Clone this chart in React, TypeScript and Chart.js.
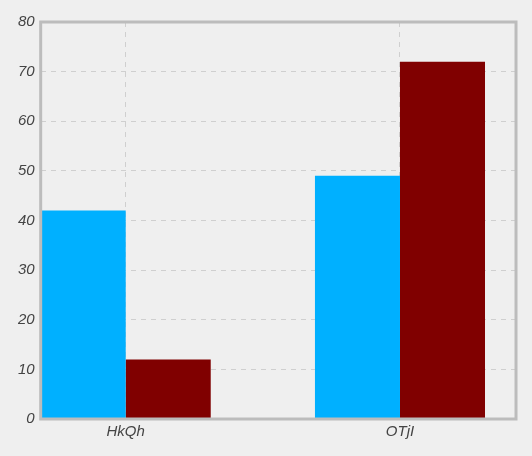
import React, { useEffect, useRef } from "react";
import { Chart, registerables } from "chart.js";
Chart.register(...registerables);

const categories = ["HkQh", "OTjI"];
const seriesBlue = [42, 49];
const seriesRed = [12, 72];
const yTicks = [0, 10, 20, 30, 40, 50, 60, 70, 80];

const frame = {
  id: "frame",
  beforeDraw(c: any) {
    const { ctx } = c;
    ctx.save();
    ctx.fillStyle = "#efefef";
    ctx.fillRect(0, 0, c.width, c.height);
    ctx.restore();
  },
  afterDraw(c: any) {
    const { ctx, chartArea: a } = c;
    ctx.save();
    ctx.strokeStyle = "#bcbcbc";
    ctx.lineWidth = 3;
    ctx.strokeRect(a.left, a.top, a.right - a.left, a.bottom - a.top);
    ctx.restore();
  },
};

export default function App() {
  const ref = useRef<HTMLCanvasElement>(null);
  useEffect(() => {
    document.body.style.margin = "0";
    const font = { family: "Liberation Sans", size: 15, style: "italic" as const };
    const chart = new Chart(ref.current!, {
      type: "bar",
      data: {
        datasets: [
          { data: categories.map((_, i) => ({ x: i, y: seriesBlue[i] })), backgroundColor: "#00b0ff" },
          { data: categories.map((_, i) => ({ x: i, y: seriesRed[i] })), backgroundColor: "#800000" },
        ],
      },
      options: {
        animation: false,
        responsive: false,
        categoryPercentage: 0.62,
        barPercentage: 1,
        layout: { padding: { top: 22, right: 16, left: 12, bottom: 11 } },
        plugins: { legend: { display: false }, tooltip: { enabled: false } },
        scales: {
          x: {
            type: "linear",
            min: -0.31,
            max: 1.423,
            offset: false,
            afterBuildTicks: (s: any) => { s.ticks = categories.map((_, i) => ({ value: i })); },
            ticks: { callback: (v: any) => categories[v] ?? "", color: "#444", font, padding: 4 },
            grid: { color: "#cfcfcf", drawTicks: false, offset: false },
            border: { display: false, dash: [5, 5] },
          },
          y: {
            min: 0,
            max: 80,
            afterBuildTicks: (s: any) => { s.ticks = yTicks.map((v) => ({ value: v })); },
            ticks: { color: "#444", font, padding: 6 },
            grid: { color: "#cfcfcf", drawTicks: false },
            border: { display: false, dash: [5, 5] },
          },
        },
      },
      plugins: [frame],
    } as any);
    return () => chart.destroy();
  }, []);
  return (
    <div style={{ width: 532, height: 456 }}>
      <canvas ref={ref} width={532} height={456} style={{ width: 532, height: 456 }} />
    </div>
  );
}
